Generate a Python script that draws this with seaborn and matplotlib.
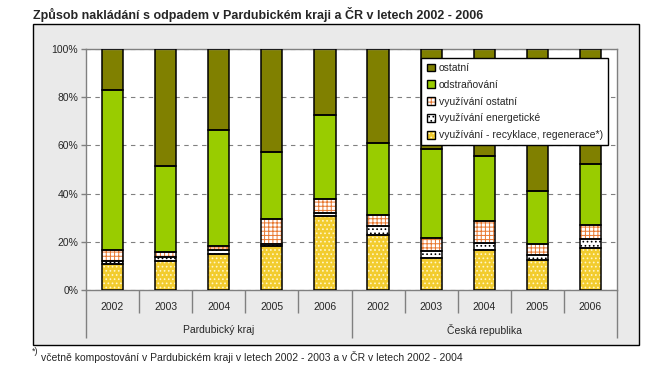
import matplotlib
matplotlib.use("Agg")
import matplotlib.pyplot as plt
import matplotlib.patches as mpatches
import seaborn as sns

# data (percent of total, bottom segment first)
years = ["2002", "2003", "2004", "2005", "2006"]
regions = ["Pardubický kraj", "Česká republika"]

recyklace = [10.6, 12.2, 15.0, 18.3, 30.6, 23.0, 13.1, 16.4, 12.4, 17.5]
energeticke = [1.6, 1.4, 1.4, 0.9, 1.4, 3.5, 3.0, 2.9, 2.2, 3.5]
vyuz_ostatni = [4.6, 2.1, 1.8, 10.1, 5.7, 4.6, 5.3, 9.3, 4.3, 6.0]
odstranovani = [66.1, 35.7, 48.1, 27.9, 35.1, 30.0, 36.9, 26.9, 22.1, 25.3]
ostatni = [17.1, 48.6, 33.7, 42.8, 27.2, 38.9, 41.7, 44.5, 59.0, 47.7]

labels = ["využívání - recyklace, regenerace*)", "využívání energetické",
          "využívání ostatní", "odstraňování", "ostatní"]

sns.set_style("white")
plt.rcParams["font.family"] = ["Liberation Sans", "DejaVu Sans"]
plt.rcParams["hatch.linewidth"] = 0.7

keys = [r + " " + y for r in regions for y in years]

# (values, face colour, hatch, hatch colour)
series = [
    (recyklace, "#F2CC2E", "....", "#FFF6C8"),
    (energeticke, "white", "....", "black"),
    (vyuz_ostatni, "white", "++++", "#E87830"),
    (odstranovani, "#99CC00", None, "#99CC00"),
    (ostatni, "#808000", None, "#808000"),
]

fig = plt.figure(figsize=(6.57, 3.71), dpi=100)
fig.patch.set_facecolor("white")
fig.patches.append(mpatches.Rectangle((33 / 657, 26 / 371), 606 / 657, 321 / 371,
                                      transform=fig.transFigure, facecolor="#EAEAEA",
                                      edgecolor="black", linewidth=1, zorder=-5))

ax = fig.add_axes([86 / 657, 81 / 371, 531 / 657, 241 / 371])
ax.set_facecolor("white")

bottom = [0.0] * len(keys)
handles = []
for (vals, face, hatch, hcol), lab in zip(series, labels):
    sns.barplot(x=keys, y=vals, bottom=bottom, color=face, saturation=1,
                hatch=hatch, edgecolor=hcol, linewidth=0, width=0.4,
                errorbar=None, ax=ax, zorder=2)
    sns.barplot(x=keys, y=vals, bottom=bottom, color="black", fill=False,
                linewidth=1.1, width=0.4, errorbar=None, ax=ax, zorder=3)
    bottom = [b + v for b, v in zip(bottom, vals)]
    handles.append((mpatches.Patch(facecolor=face, hatch=hatch, edgecolor=hcol, linewidth=0),
                    mpatches.Patch(facecolor="none", edgecolor="black", linewidth=1)))

ax.set_xlim(-0.5, 9.5)
ax.set_ylim(0, 100)
ax.set_yticks(range(0, 101, 20))
ax.set_yticklabels([f"{v}%" for v in range(0, 101, 20)])
ax.set_xticks(range(len(keys)))
ax.set_xticklabels(years * 2)
ax.set_xlabel("")
ax.set_ylabel("")
ax.tick_params(axis="x", length=0, pad=9, labelsize=7.5)
ax.tick_params(axis="y", length=3.6, width=1, color="#808080", pad=2, labelsize=7.5,
               left=True)
ax.yaxis.grid(True, color="#808080", linestyle=(0, (4, 4)), linewidth=0.8)
ax.set_axisbelow(True)
for s in ax.spines.values():
    s.set_color("#808080")
    s.set_linewidth(1)

# category separators below the axis
xt = ax.get_xaxis_transform()
ax.vlines([0.5, 1.5, 2.5, 3.5, 5.5, 6.5, 7.5, 8.5], -23 / 241, 0, transform=xt,
          colors="#808080", linewidth=1, clip_on=False)
ax.vlines([-0.5, 4.5, 9.5], -48 / 241, 0, transform=xt,
          colors="#808080", linewidth=1, clip_on=False)
ax.text(2, -40 / 241, regions[0], transform=xt, ha="center", va="center", fontsize=7.5)
ax.text(7, -40 / 241, regions[1], transform=xt, ha="center", va="center", fontsize=7.5)

leg = ax.legend(handles[::-1], labels[::-1], loc="upper right",
                bbox_to_anchor=(0.983, 0.963), borderaxespad=0, fontsize=7.5,
                handlelength=0.8, handleheight=0.8, handletextpad=0.35,
                labelspacing=0.65, borderpad=0.5, fancybox=False, framealpha=1,
                edgecolor="black")
leg.get_frame().set_linewidth(1)
leg.set_zorder(5)

fig.text(33 / 657, 1 - 19 / 371,
         "Způsob nakládání s odpadem v Pardubickém kraji a ČR v letech 2002 - 2006",
         fontsize=9, fontweight="bold", va="baseline", ha="left")
fig.text(32 / 657, 1 - 352 / 371, "*)", fontsize=6.5, va="center", ha="left")
fig.text(41 / 657, 1 - 357 / 371,
         "včetně kompostování v Pardubickém kraji v letech 2002 - 2003 a v ČR v letech 2002 - 2004",
         fontsize=7.5, va="center", ha="left")

fig.savefig("out.png", dpi=100)
